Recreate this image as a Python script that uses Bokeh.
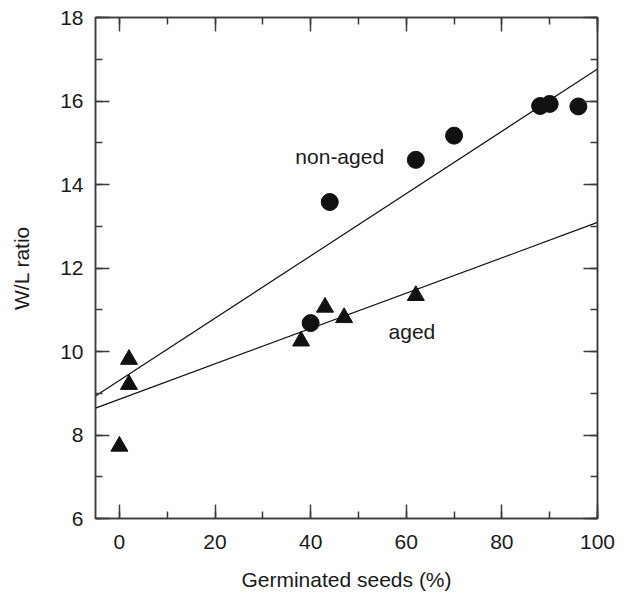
import numpy as np
from bokeh.plotting import figure
from bokeh.models import Range1d, LinearAxis, SingleIntervalTicker, Label, CustomLabelingPolicy
from bokeh.embed import file_html
from bokeh.resources import INLINE

# Data
nonaged_x = [40, 44, 62, 70, 88, 90, 96]
nonaged_y = [10.68, 13.58, 14.59, 15.17, 15.88, 15.93, 15.87]
aged_x = [0, 2, 2, 38, 43, 47, 62]
aged_y = [7.73, 9.81, 9.21, 10.25, 11.06, 10.81, 11.34]
x_limits = [-5, 100]
y_limits = [6, 18]
label_nonaged = "non-aged"
label_aged = "aged"
x_title = "Germinated seeds (%)"
y_title = "W/L ratio"

FONT = "Liberation Sans"
INK = "#1a1a1a"
AX = "#3a3a3a"
FS = "21px"

p = figure(width=625, height=602, output_backend="svg", toolbar_location=None,
           x_range=Range1d(*x_limits), y_range=Range1d(*y_limits),
           x_axis_location=None, y_axis_location=None,
           min_border_left=95, min_border_right=28, min_border_top=17, min_border_bottom=84)
p.grid.visible = False
p.outline_line_color = AX
p.outline_line_width = 1.5
p.background_fill_color = "white"
p.border_fill_color = "white"

xt = SingleIntervalTicker(interval=20, num_minor_ticks=2)
yt = SingleIntervalTicker(interval=2, num_minor_ticks=2)

def style(ax, show):
    ax.major_tick_in = 14
    ax.major_tick_out = 0
    ax.minor_tick_in = 7
    ax.minor_tick_out = 0
    ax.major_tick_line_color = AX
    ax.minor_tick_line_color = AX
    ax.major_tick_line_width = 1.5
    ax.minor_tick_line_width = 1.5
    ax.axis_line_color = AX
    ax.axis_line_width = 1.5
    if show:
        ax.major_label_text_font = FONT
        ax.major_label_text_font_size = FS
        ax.major_label_text_color = INK
        ax.axis_label_text_font = FONT
        ax.axis_label_text_font_size = FS
        ax.axis_label_text_font_style = "normal"
        ax.axis_label_text_color = INK
    else:
        ax.major_label_policy = CustomLabelingPolicy(
            code="const all = Array.from(indices); for (const i of all) { indices.unset(i) } return indices")
        ax.major_label_standoff = 0

bx = LinearAxis(ticker=xt, axis_label=x_title)
style(bx, True)
bx.major_label_standoff = 16
bx.axis_label_standoff = 16
p.add_layout(bx, "below")

ly = LinearAxis(ticker=yt, axis_label=y_title)
style(ly, True)
ly.major_label_standoff = 12
ly.axis_label_standoff = 24
p.add_layout(ly, "left")

tx = LinearAxis(ticker=xt)
style(tx, False)
p.add_layout(tx, "above")
ry = LinearAxis(ticker=yt)
style(ry, False)
p.add_layout(ry, "right")

# regression lines computed from the data
xs_line = np.array(x_limits, dtype=float)
for xs, ys in [(nonaged_x, nonaged_y), (aged_x, aged_y)]:
    m, b = np.polyfit(xs, ys, 1)
    p.line(xs_line, m * xs_line + b, line_color="#111111", line_width=1.2)

p.scatter(nonaged_x, nonaged_y, marker="circle", size=17, fill_color="#111111", line_color="#111111")
p.scatter(aged_x, aged_y, marker="triangle", size=17, fill_color="#111111", line_color="#111111")

p.add_layout(Label(x=36.8, y=14.67, text=label_nonaged, text_font=FONT, text_font_size=FS,
                   text_color=INK, text_baseline="middle", text_align="left"))
p.add_layout(Label(x=56.3, y=10.48, text=label_aged, text_font=FONT, text_font_size=FS,
                   text_color=INK, text_baseline="middle", text_align="left"))

open("out.html", "w").write(file_html(p, INLINE))
